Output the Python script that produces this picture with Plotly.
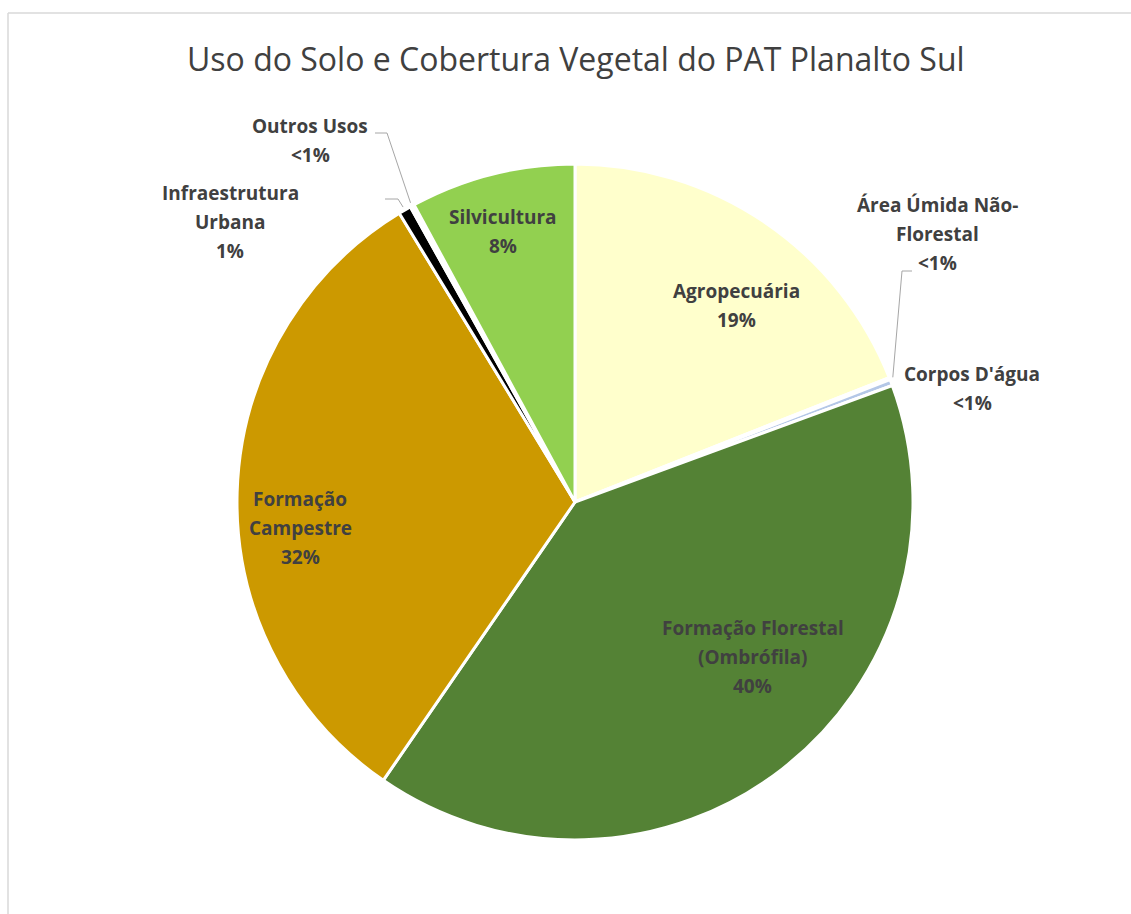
import math
import plotly.graph_objects as go

# ---------------- data ----------------
categories = [
    "Agropecuária",
    "Área Úmida Não-Florestal",
    "Corpos D'água",
    "Formação Florestal (Ombrófila)",
    "Formação Campestre",
    "Infraestrutura Urbana",
    "Outros Usos",
    "Silvicultura",
]
values = [19.0, 0.1, 0.3, 40.2, 31.7, 0.6, 0.2, 7.9]
colors = ["#FFFFCC", "#FFFFFF", "#B4C7E7", "#548235", "#CC9900", "#000000", "#FFFFFF", "#92D050"]
label_lines = [
    ["Agropecuária"],
    ["Área Úmida Não-", "Florestal"],
    ["Corpos D'água"],
    ["Formação Florestal", "(Ombrófila)"],
    ["Formação", "Campestre"],
    ["Infraestrutura", "Urbana"],
    ["Outros Usos"],
    ["Silvicultura"],
]
title = "Uso do Solo e Cobertura Vegetal do PAT Planalto Sul"

# ---------------- layout geometry (px) ----------------
W, H = 1131, 914
CX, CY, R = 575, 502, 338

# label block centre (px) and font size
label_pos = {
    "Agropecuária": (736, 305, 19),
    "Área Úmida Não-Florestal": (937, 234, 19),
    "Corpos D'água": (972, 388, 19),
    "Formação Florestal (Ombrófila)": (753, 657, 19),
    "Formação Campestre": (300, 528, 19),
    "Infraestrutura Urbana": (230, 222, 19),
    "Outros Usos": (310, 140, 19),
    "Silvicultura": (503, 232, 19),
}
# leader lines: label-side start, elbow
leaders = {
    "Outros Usos": ((375, 133), (387, 133)),
    "Infraestrutura Urbana": ((385, 199), (398, 199)),
    "Área Úmida Não-Florestal": ((912, 271), (902, 271)),
}
LINE_SP = 29
FONT = "Open Sans"
TXT = "#404040"


def px(x, y):
    return x / W, 1 - y / H


def pct_text(v):
    return "<1%" if v < 0.5 else f"{round(v)}%"


fig = go.Figure(
    go.Pie(
        labels=categories,
        values=values,
        sort=False,
        direction="clockwise",
        rotation=0,
        marker=dict(colors=colors, line=dict(color="#FFFFFF", width=3)),
        textinfo="none",
        hoverinfo="label+percent",
        showlegend=False,
        domain=dict(x=[(CX - R) / W, (CX + R) / W], y=[1 - (CY + R) / H, 1 - (CY - R) / H]),
    )
)

annotations = []
total = sum(values)
cum = 0.0
mid_angle = {}
for cat, v in zip(categories, values):
    mid_angle[cat] = (cum + v / 2) / total * 360.0
    cum += v

for cat, v, lines in zip(categories, values, label_lines):
    lx, ly, fs = label_pos[cat]
    all_lines = lines + [pct_text(v)]
    n = len(all_lines)
    for i, t in enumerate(all_lines):
        yy = ly + (i - (n - 1) / 2) * LINE_SP
        xp, yp = px(lx, yy)
        annotations.append(dict(
            x=xp, y=yp, xref="paper", yref="paper", text=f"<b>{t}</b>",
            showarrow=False, xanchor="center", yanchor="middle",
            font=dict(family=FONT, size=fs, color=TXT),
        ))

# title
tx, ty = px(576, 58)
annotations.append(dict(
    x=tx, y=ty, xref="paper", yref="paper", text=title, showarrow=False,
    xanchor="center", yanchor="middle", font=dict(family=FONT, size=32, color="#404040"),
))

shapes = []
# frame
x0, y0 = px(8, 13)
x1, _ = px(W, 13)
_, y1 = px(8, H)
shapes.append(dict(type="line", xref="paper", yref="paper", x0=x0, y0=y0, x1=x1, y1=y0,
                   line=dict(color="#D9D9D9", width=1.5)))
shapes.append(dict(type="line", xref="paper", yref="paper", x0=x0, y0=y0, x1=x0, y1=y1,
                   line=dict(color="#D9D9D9", width=1.5)))

# leader lines to slice edge at mid-angle
for cat, (p0, p1) in leaders.items():
    a = math.radians(mid_angle[cat])
    ex = CX + R * 1.01 * math.sin(a)
    ey = CY - R * 1.01 * math.cos(a)
    pts = [px(*p0), px(*p1), px(ex, ey)]
    path = "M {} {} L {} {} L {} {}".format(pts[0][0], pts[0][1], pts[1][0], pts[1][1], pts[2][0], pts[2][1])
    shapes.append(dict(type="path", xref="paper", yref="paper", path=path,
                       line=dict(color="#A6A6A6", width=1)))

fig.update_layout(
    width=W, height=H,
    margin=dict(l=0, r=0, t=0, b=0),
    paper_bgcolor="#FFFFFF", plot_bgcolor="#FFFFFF",
    annotations=annotations, shapes=shapes,
)

fig.write_html("out.html", config={"displayModeBar": False},
               post_script="document.body.style.margin='0px';")
